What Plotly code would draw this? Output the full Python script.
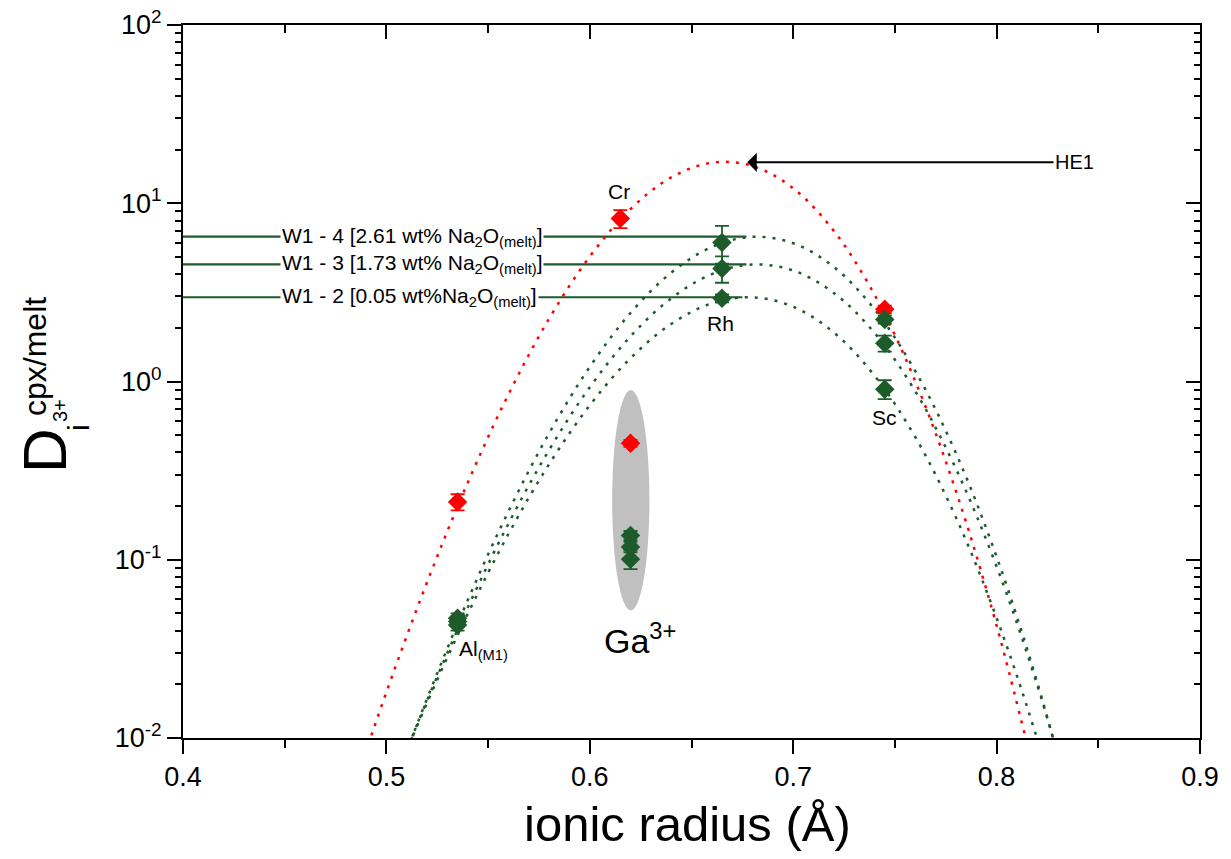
import plotly.graph_objects as go
import math

FONT = "Liberation Sans, Arial, sans-serif"
RED = "#ff0000"
GREEN = "#1d5c2a"

# ---- measured partition coefficients ----
he1_x = [0.535, 0.615, 0.620, 0.745]
he1_y = [0.211, 8.2, 0.45, 2.54]
he1_err = [0.022, 0.95, 0.02, 0.12]

green_x = [0.535, 0.620, 0.665, 0.745]
w14_y = [0.047, 0.137, 6.03, 2.23]
w14_err = [0.003, 0.008, 1.44, 0.12]
w13_y = [0.045, 0.118, 4.31, 1.64]
w13_err = [0.003, 0.008, 0.73, 0.17]
w12_y = [0.043, 0.1007, 2.93, 0.906]
w12_err = [0.003, 0.012, 0.15, 0.11]

# ---- fit curves ----
he1_fit_x = [0.48, 0.50, 0.52, 0.54, 0.56, 0.58, 0.60, 0.62, 0.64, 0.66, 0.68,
             0.70, 0.72, 0.74, 0.76, 0.78, 0.80, 0.82]
he1_fit_y = [0.00388, 0.01808, 0.0748, 0.2707, 0.8465, 2.252, 5.026, 9.277, 13.96,
             16.89, 16.19, 12.12, 6.992, 3.062, 1.004, 0.2429, 0.04275, 0.0054]

green_fit_x = [0.50, 0.52, 0.54, 0.56, 0.58, 0.60, 0.62, 0.64, 0.66, 0.68, 0.70,
               0.72, 0.74, 0.76, 0.78, 0.80, 0.82, 0.84]
w14_fit_y = [0.00417, 0.01664, 0.05938, 0.1869, 0.5124, 1.2089, 2.4235, 4.077, 5.682,
             6.48, 5.969, 4.387, 2.5405, 1.1446, 0.3962, 0.10403, 0.02048, 0.00297]
w13_fit_y = [0.0044, 0.01626, 0.05398, 0.1594, 0.4131, 0.929, 1.7913, 2.927, 4.0044,
             4.533, 4.1952, 3.1371, 1.8729, 0.8823, 0.3240, 0.09169, 0.01977, 0.0032]
w12_fit_y = [0.00449, 0.01575, 0.04971, 0.13945, 0.34372, 0.7354, 1.3502, 2.1027, 2.7441,
             2.967, 2.6266, 1.8817, 1.078, 0.48822, 0.1727, 0.04719, 0.00984, 0.00155]

# label lines: peak values of the three W1 fits and where they end
w1_labels = ["W1 - 4 [2.61 wt% Na<sub>2</sub>O<sub>(melt)</sub>]",
             "W1 - 3 [1.73 wt% Na<sub>2</sub>O<sub>(melt)</sub>]",
             "W1 - 2 [0.05 wt%Na<sub>2</sub>O<sub>(melt)</sub>]"]
w1_peak = [6.49, 4.54, 2.97]
w1_line_end = [0.677, 0.677, 0.675]

x_ticks = [0.4, 0.5, 0.6, 0.7, 0.8, 0.9]
x_minor = [0.45, 0.55, 0.65, 0.75, 0.85]
y_ticks = [0.01, 0.1, 1, 10, 100]
y_ticktext = ["10<sup>-2</sup>", "10<sup>-1</sup>", "10<sup>0</sup>", "10<sup>1</sup>", "10<sup>2</sup>"]
y_minor = [m * d for d in [0.01, 0.1, 1, 10] for m in range(2, 10)]

fig = go.Figure()

dot = "3px,7px"
fig.add_trace(go.Scatter(x=he1_fit_x, y=he1_fit_y, mode="lines", line=dict(color=RED, width=2.5, dash=dot, shape="spline"), hoverinfo="skip"))
for ys in [w14_fit_y, w13_fit_y, w12_fit_y]:
    fig.add_trace(go.Scatter(x=green_fit_x, y=ys, mode="lines", line=dict(color=GREEN, width=2.5, dash=dot, shape="spline"), hoverinfo="skip"))

def pts(x, y, err, color):
    fig.add_trace(go.Scatter(
        x=x, y=y, mode="markers",
        marker=dict(symbol="diamond", size=15, color=color, line=dict(width=0)),
        error_y=dict(type="data", array=err, color=color, thickness=1.8, width=7),
    ))

pts(he1_x, he1_y, he1_err, RED)
pts(green_x, w12_y, w12_err, GREEN)
pts(green_x, w13_y, w13_err, GREEN)
pts(green_x, w14_y, w14_err, GREEN)

# mirrored axes (inside ticks on top/right)
fig.add_trace(go.Scatter(x=[0.4], y=[1], xaxis="x2", yaxis="y2", mode="markers", marker=dict(opacity=0), hoverinfo="skip"))

shapes = []
shapes.append(dict(type="circle", xref="x", yref="y", x0=0.611, x1=0.6293, y0=0.052, y1=0.895,
                   fillcolor="#c0c0c0", line=dict(width=0), layer="below"))
for yv, xe in zip(w1_peak, w1_line_end):
    shapes.append(dict(type="line", xref="x", yref="y", x0=0.4, x1=xe, y0=yv, y1=yv,
                       line=dict(color=GREEN, width=2.2), layer="below"))

ann = []
for txt, yv in zip(w1_labels, w1_peak):
    ann.append(dict(x=0.4475, y=math.log10(yv), xref="x", yref="y", text=txt, showarrow=False,
                    xanchor="left", yanchor="middle", bgcolor="white", borderpad=1,
                    font=dict(family=FONT, size=21, color="black")))
for txt, xv, yv in [("Cr", 0.6145, 8.2 * 1.42), ("Rh", 0.6641, 2.127), ("Sc", 0.7448, 0.631)]:
    ann.append(dict(x=xv, y=math.log10(yv), xref="x", yref="y", text=txt, showarrow=False,
                    font=dict(family=FONT, size=21, color="black")))
ann.append(dict(x=0.5345, y=math.log10(0.031), xref="x", yref="y", text="Al<sub>(M1)</sub>", showarrow=False,
                xanchor="left", font=dict(family=FONT, size=21, color="black")))
ann.append(dict(x=0.606, y=math.log10(0.036), xref="x", yref="y", text="Ga<sup>3+</sup>", showarrow=False,
                xanchor="left", font=dict(family=FONT, size=34, color="black")))
# HE1 arrow
ann.append(dict(x=0.6774, y=math.log10(16.97), xref="x", yref="y",
                ax=0.8383, ay=math.log10(16.97), axref="x", ayref="y",
                text="HE1", showarrow=True, arrowhead=1, arrowsize=1.6, arrowwidth=2, arrowcolor="black",
                font=dict(family=FONT, size=20, color="black")))
# x-axis title
ann.append(dict(xref="paper", yref="paper", x=(853 - 183) / 1017, y=-(824 - 738) / 713,
                xanchor="right", yanchor="middle", text="ionic radius (Å)", showarrow=False,
                font=dict(family=FONT, size=49, color="black")))
# y-axis title pieces
def ytitle(txt, px, py, size):
    ann.append(dict(xref="paper", yref="paper", x=(px - 183) / 1017, y=(738 - py) / 713, text=txt,
                    textangle=-90, showarrow=False, xanchor="center", yanchor="middle",
                    font=dict(family=FONT, size=size, color="black")))
ytitle("D", 44, 451, 62)
ytitle("cpx/melt", 35, 357, 32)
ytitle("i", 78, 428, 30)
ytitle("3+", 60, 411, 20)

axis_common = dict(showline=True, linecolor="black", linewidth=2, showgrid=False, zeroline=False,
                   tickcolor="black", tickwidth=2, automargin=False)

fig.update_layout(
    width=1231, height=859,
    margin=dict(l=183, r=31, t=25, b=121, autoexpand=False),
    paper_bgcolor="white", plot_bgcolor="white",
    showlegend=False,
    font=dict(family=FONT, color="black"),
    shapes=shapes, annotations=ann,
    xaxis=dict(range=[0.4, 0.9], tickvals=x_ticks, ticktext=[str(v) for v in x_ticks],
               ticks="outside", ticklen=14, tickfont=dict(family=FONT, size=27),
               minor=dict(tickvals=x_minor, ticks="outside", ticklen=8, tickcolor="black", tickwidth=2),
               **axis_common),
    yaxis=dict(type="log", range=[-2, 2], tickvals=y_ticks, ticktext=y_ticktext,
               ticks="outside", ticklen=14, tickfont=dict(family=FONT, size=27),
               minor=dict(tickvals=y_minor, ticks="outside", ticklen=6, tickcolor="black", tickwidth=2),
               **axis_common),
    xaxis2=dict(range=[0.4, 0.9], overlaying="x", side="top", anchor="y", tickvals=x_ticks,
                ticks="inside", ticklen=14, showticklabels=False,
                minor=dict(tickvals=x_minor, ticks="inside", ticklen=8, tickcolor="black", tickwidth=2),
                **axis_common),
    yaxis2=dict(type="log", range=[-2, 2], overlaying="y", side="right", anchor="x",
                tickvals=y_ticks, ticks="inside", ticklen=14, showticklabels=False,
                minor=dict(tickvals=y_minor, ticks="inside", ticklen=6, tickcolor="black", tickwidth=2),
                **axis_common),
)

fig.write_html("out.html")
